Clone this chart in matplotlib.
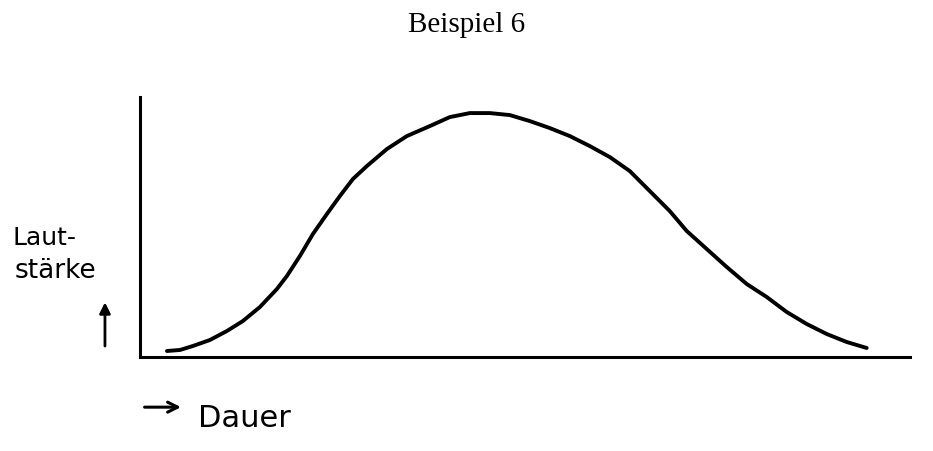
import matplotlib.pyplot as plt
from matplotlib.patches import FancyArrowPatch

# Lautstaerke ueber Dauer (willkuerliche Einheiten)
dauer = [27, 40, 53, 70, 87, 103, 120, 137, 147, 160, 173, 187, 200, 213,
         227, 247, 267, 290, 310, 330, 350, 370, 390, 410, 430, 450, 470,
         490, 513, 530, 547, 567, 587, 607, 627, 647, 667, 687, 707, 727]
lautstaerke = [6, 7, 11, 17, 26, 36, 50, 68, 81, 101, 123, 143, 161, 178,
               191, 208, 221, 231, 240, 244, 244, 242, 236, 229, 221, 211, 200,
               186, 163, 146, 126, 108, 90, 73, 60, 45, 33, 23, 15, 9]

fig = plt.figure(figsize=(9.33, 4.52), dpi=100)
ax = fig.add_axes([0.150, 0.208, 0.825, 0.575])

ax.plot(dauer, lautstaerke, color='black', lw=2.8,
        solid_capstyle='round', solid_joinstyle='round')
ax.set_xlim(0, 770)
ax.set_ylim(0, 260)

for side in ('top', 'right'):
    ax.spines[side].set_visible(False)
for side in ('left', 'bottom'):
    ax.spines[side].set_linewidth(2.2)
ax.set_xticks([])
ax.set_yticks([])

fig.text(0.5, 0.945, 'Beispiel 6', ha='center', va='center',
         family='Liberation Serif', fontsize=21)

# handschriftliche Achsenbeschriftung
fig.text(0.013, 0.458, 'Laut-', ha='left', va='baseline', fontsize=18)
fig.text(0.016, 0.385, 'stärke', ha='left', va='baseline', fontsize=19)
fig.text(0.212, 0.055, 'Dauer', ha='left', va='baseline', fontsize=22)

fig.add_artist(FancyArrowPatch(
    (0.1125, 0.226), (0.1125, 0.335), transform=fig.transFigure,
    arrowstyle='-|>', color='black', lw=2, mutation_scale=16))
fig.add_artist(FancyArrowPatch(
    (0.152, 0.097), (0.197, 0.097), transform=fig.transFigure,
    arrowstyle='->', color='black', lw=2.2, mutation_scale=18))

fig.savefig('out.png', dpi=100)
